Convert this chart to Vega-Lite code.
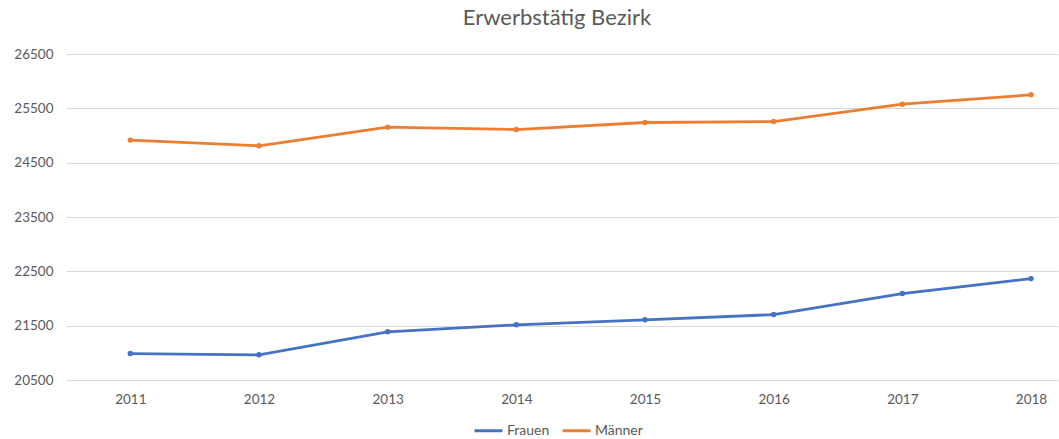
{
  "$schema": "https://vega.github.io/schema/vega-lite/v6.json",
  "autosize": {"type": "none"},
  "padding": {"left": 66, "top": 54, "right": 1, "bottom": 59},
  "width": 992,
  "height": 326,
  "background": "white",
  "config": {
    "font": "Lato",
    "view": {"stroke": null}
  },
  "title": {
    "text": "Erwerbstätig Bezirk",
    "fontSize": 22,
    "fontWeight": "normal",
    "color": "#595959",
    "font": "Lato",
    "anchor": "middle",
    "offset": 17,
    "dx": -5
  },
  "data": {
    "values": [
      {"Jahr": 2011, "Gruppe": "Frauen", "Wert": 20987},
      {"Jahr": 2012, "Gruppe": "Frauen", "Wert": 20963},
      {"Jahr": 2013, "Gruppe": "Frauen", "Wert": 21386},
      {"Jahr": 2014, "Gruppe": "Frauen", "Wert": 21515},
      {"Jahr": 2015, "Gruppe": "Frauen", "Wert": 21607},
      {"Jahr": 2016, "Gruppe": "Frauen", "Wert": 21704},
      {"Jahr": 2017, "Gruppe": "Frauen", "Wert": 22090},
      {"Jahr": 2018, "Gruppe": "Frauen", "Wert": 22366},
      {"Jahr": 2011, "Gruppe": "Männer", "Wert": 24915},
      {"Jahr": 2012, "Gruppe": "Männer", "Wert": 24810},
      {"Jahr": 2013, "Gruppe": "Männer", "Wert": 25154},
      {"Jahr": 2014, "Gruppe": "Männer", "Wert": 25110},
      {"Jahr": 2015, "Gruppe": "Männer", "Wert": 25239},
      {"Jahr": 2016, "Gruppe": "Männer", "Wert": 25257},
      {"Jahr": 2017, "Gruppe": "Männer", "Wert": 25577},
      {"Jahr": 2018, "Gruppe": "Männer", "Wert": 25748}
    ]
  },
  "encoding": {
    "x": {
      "field": "Jahr",
      "type": "quantitative",
      "scale": {"domain": [2010.5, 2018.21], "nice": false, "zero": false},
      "axis": {
        "title": null,
        "values": [2011, 2012, 2013, 2014, 2015, 2016, 2017, 2018],
        "format": "d",
        "grid": false,
        "domain": false,
        "ticks": false,
        "labelFontSize": 13.5,
        "labelColor": "#595959",
        "labelPadding": 12,
        "labelFont": "Lato"
      }
    },
    "y": {
      "field": "Wert",
      "type": "quantitative",
      "scale": {"domain": [20500, 26500], "nice": false, "zero": false},
      "axis": {
        "title": null,
        "values": [20500, 21500, 22500, 23500, 24500, 25500, 26500],
        "format": "d",
        "domain": false,
        "ticks": false,
        "gridColor": "#D9D9D9",
        "gridWidth": 1,
        "labelFontSize": 13.5,
        "labelColor": "#595959",
        "labelPadding": 13,
        "labelFont": "Lato"
      }
    },
    "color": {
      "field": "Gruppe",
      "type": "nominal",
      "scale": {"domain": ["Frauen", "Männer"], "range": ["#4472C4", "#ED7D31"]},
      "legend": {
        "title": null,
        "orient": "none",
        "direction": "horizontal",
        "legendX": 407,
        "legendY": 361,
        "symbolType": "stroke",
        "symbolStrokeWidth": 3,
        "symbolSize": 780,
        "labelFontSize": 14,
        "labelColor": "#595959",
        "labelFont": "Lato",
        "labelOffset": 3,
        "columnPadding": 6
      }
    }
  },
  "layer": [
    {"mark": {"type": "line", "strokeWidth": 2.8}},
    {"mark": {"type": "point", "filled": true, "opacity": 1, "size": 30}}
  ]
}
